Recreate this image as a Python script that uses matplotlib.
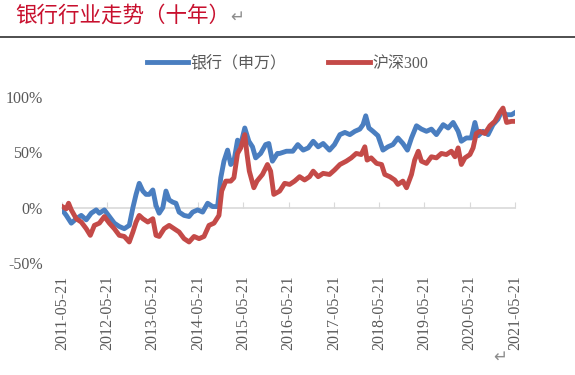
import matplotlib
matplotlib.use("Agg")
import matplotlib.pyplot as plt
from matplotlib.lines import Line2D

# readings: x in decimal years, y in percent
bank_t = [2011.39, 2011.48, 2011.59, 2011.70, 2011.81, 2011.92, 2012.03, 2012.14, 2012.21, 2012.32,
          2012.43, 2012.54, 2012.65, 2012.76, 2012.87, 2012.95, 2013.02, 2013.09, 2013.17, 2013.24,
          2013.31, 2013.39, 2013.46, 2013.53, 2013.61, 2013.68, 2013.75, 2013.83, 2013.90, 2013.97,
          2014.08, 2014.19, 2014.27, 2014.38, 2014.49, 2014.60, 2014.71, 2014.82, 2014.89, 2014.96,
          2015.04, 2015.11, 2015.18, 2015.26, 2015.33, 2015.42, 2015.51, 2015.59, 2015.66, 2015.77,
          2015.88, 2015.95, 2016.03, 2016.14,
          2016.19, 2016.34, 2016.48, 2016.59, 2016.71, 2016.82, 2016.93, 2017.04, 2017.15, 2017.29,
          2017.40, 2017.52, 2017.63, 2017.74, 2017.85, 2017.96, 2018.03, 2018.09, 2018.16, 2018.25,
          2018.36, 2018.47, 2018.58, 2018.69, 2018.80, 2018.91, 2019.01, 2019.10, 2019.21, 2019.32,
          2019.43, 2019.54, 2019.65, 2019.80, 2019.91, 2020.02, 2020.13, 2020.20, 2020.31, 2020.42,
          2020.50, 2020.57, 2020.68, 2020.79, 2020.90, 2021.01, 2021.09, 2021.20, 2021.31, 2021.39]
bank_v = [-2, -7, -14, -10, -7, -11, -5, -2, -5, -2,
          -8, -14, -17, -19, -16, 0, 12, 22, 15, 12,
          12, 16, 2, -5, 0, 15, 7, 5, 4, -4,
          -7, -8, -4, -2, -4, 4, 1, 1, 27, 42,
          52, 39, 42, 61, 57, 72, 60, 55, 45, 49,
          57, 58, 42, 49,
          49, 51, 51, 57, 52, 54, 60, 55, 58, 52,
          57, 66, 68, 66, 69, 71, 75, 83, 72, 69,
          65, 52, 55, 57, 63, 58, 52, 63, 74, 71,
          69, 71, 66, 75, 72, 77, 69, 60, 63, 63,
          77, 65, 69, 66, 75, 80, 87, 84, 84, 86]

hs300_t = [2011.39, 2011.48, 2011.53, 2011.59, 2011.70, 2011.81, 2011.92, 2012.01, 2012.10, 2012.21,
           2012.32, 2012.43, 2012.54, 2012.65, 2012.76, 2012.87, 2012.95, 2013.02, 2013.09, 2013.17,
           2013.28, 2013.39, 2013.46, 2013.53, 2013.64, 2013.75, 2013.86, 2013.97, 2014.08, 2014.19,
           2014.30, 2014.41, 2014.52, 2014.63, 2014.74, 2014.85, 2014.91, 2015.00, 2015.11, 2015.18,
           2015.26, 2015.33, 2015.42, 2015.47, 2015.52, 2015.62, 2015.69, 2015.81, 2015.92, 2015.99,
           2016.06,
           2016.19, 2016.30, 2016.41, 2016.52, 2016.63, 2016.74, 2016.85, 2016.93, 2017.04, 2017.15,
           2017.29, 2017.40, 2017.52, 2017.66, 2017.77, 2017.88, 2017.99, 2018.07, 2018.12, 2018.21,
           2018.33, 2018.44, 2018.51, 2018.62, 2018.73, 2018.80, 2018.91, 2018.99, 2019.10, 2019.17,
           2019.25, 2019.32, 2019.43, 2019.54, 2019.65, 2019.76, 2019.87, 2019.98, 2020.06, 2020.13,
           2020.20, 2020.28, 2020.39, 2020.46, 2020.53, 2020.61, 2020.72, 2020.83, 2020.94, 2021.05,
           2021.12, 2021.20, 2021.31, 2021.39]
hs300_v = [1, -1, 4, -2, -10, -13, -19, -25, -16, -14,
           -8, -14, -19, -25, -26, -31, -22, -13, -7, -10,
           -13, -10, -25, -26, -19, -16, -19, -22, -28, -31,
           -26, -28, -26, -16, -14, -7, 15, 24, 24, 27,
           49, 54, 66, 48, 33, 18, 24, 30, 39, 33,
           12,
           15, 22, 21, 24, 28, 25, 28, 33, 28, 31,
           30, 34, 39, 42, 45, 49, 48, 55, 43, 45,
           40, 39, 30, 28, 25, 21, 24, 18, 30, 43,
           51, 42, 40, 46, 45, 49, 48, 51, 46, 54,
           39, 45, 48, 54, 67, 69, 67, 74, 78, 86,
           90, 77, 78, 78]

tick_years = list(range(2011, 2022))
tick_labels = [f"{y}-05-21" for y in tick_years]

BLUE = "#4a7ec0"
RED = "#c44a48"
GRAY = "#595959"
SERIF = ["Liberation Serif", "Noto Sans CJK SC"]

fig = plt.figure(figsize=(5.75, 3.75), dpi=100)
ax = fig.add_axes([62/575, 1-263/375, (515-62)/575, (263-97)/375])

tick_pos = [y + 0.385 for y in tick_years]
ax.plot(bank_t, bank_v, color=BLUE, lw=3.5, solid_joinstyle="round", label="银行（申万）", zorder=3)
ax.plot(hs300_t, hs300_v, color=RED, lw=3.5, solid_joinstyle="round", label="沪深300", zorder=3)

ax.set_xlim(tick_pos[0], tick_pos[-1])
ax.set_ylim(-50, 100)
for s in ["top", "right", "left"]:
    ax.spines[s].set_visible(False)
ax.spines["bottom"].set_position(("data", 0))
ax.spines["bottom"].set_color("#d9d9d9")
ax.spines["bottom"].set_linewidth(1.2)
ax.spines["bottom"].set_zorder(1)
ax.set_xticks(tick_pos)
ax.tick_params(axis="x", direction="in", length=4, color="#d9d9d9", labelbottom=False)

ax.set_yticks([-50, 0, 50, 100])
ax.set_yticklabels(["-50%", "0%", "50%", "100%"], family=SERIF, fontsize=11.5, color=GRAY)
ax.tick_params(axis="y", length=0, pad=14)

sec = ax.secondary_xaxis(0.0)
sec.set_xticks(tick_pos)
sec.set_xticklabels(tick_labels, rotation=90, family=SERIF, fontsize=11.5, color=GRAY)
sec.tick_params(length=0, pad=9)
sec.spines["bottom"].set_visible(False)

leg = fig.legend(loc="center", bbox_to_anchor=(0.5, 1-64/375), ncol=2, frameon=False,
                 handlelength=2.6, handletextpad=0.15, columnspacing=2.6,
                 prop={"family": SERIF, "size": 11.5})
for t in leg.get_texts():
    t.set_color(GRAY)

fig.text(15/575, 1-16/375, "银行行业走势（十年）", color="#c8102e", fontsize=15.5,
         family=["Noto Sans CJK SC", "DejaVu Sans"], weight="medium", va="center", ha="left")
fig.text(230/575, 1-17/375, "↵", color="#8c8c8c", fontsize=12, family="DejaVu Sans",
         va="center", ha="left")
fig.text(493/575, 1-357/375, "↵", color="#8c8c8c", fontsize=12, family="DejaVu Sans",
         va="center", ha="left")
fig.add_artist(Line2D([0, 1], [1-37/375, 1-37/375], color="#404040", lw=1.3,
                      transform=fig.transFigure))

fig.savefig("out.png", dpi=100)
